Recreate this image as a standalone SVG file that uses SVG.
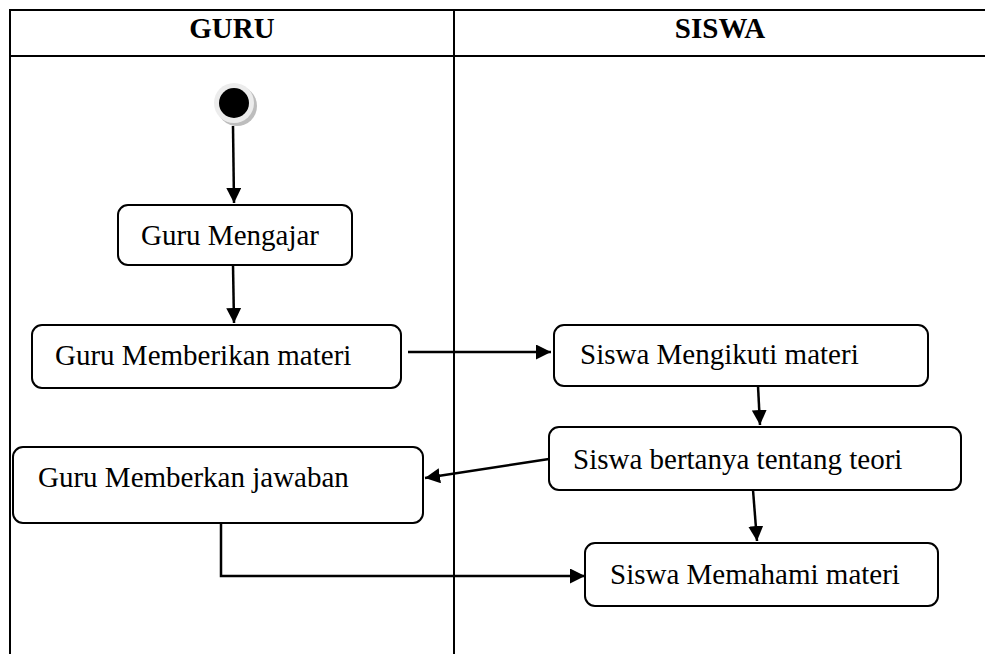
<svg xmlns="http://www.w3.org/2000/svg" width="985" height="654" viewBox="0 0 985 654">
  <style>
    .lane { fill: none; stroke: #000; stroke-width: 2; }
    .node { fill: #fff; stroke: #000; stroke-width: 2; }
    .lbl { font-family: "Liberation Serif", "Times New Roman", serif; font-size: 29px; fill: #000; }
    .hdr { font-family: "Liberation Serif", "Times New Roman", serif; font-size: 29px; font-weight: bold; fill: #000; text-anchor: middle; }
    .edge { fill: none; stroke: #000; stroke-width: 2.5; }
  </style>
  <defs>
    <marker id="arrow" viewBox="0 0 10 10" refX="10" refY="5" markerWidth="6" markerHeight="6" markerUnits="strokeWidth" orient="auto">
      <path d="M0,0 L10,5 L0,10 z" fill="#000"/>
    </marker>
  </defs>

  <!-- swimlane table -->
  <g id="lanes">
    <rect x="0" y="0" width="985" height="654" fill="#fff"/>
    <path class="lane" d="M10,660 V10 H990 M10,56 H990 M454,10 V660"/>
    <text class="hdr" x="232" y="38">GURU</text>
    <text class="hdr" x="720" y="38">SISWA</text>
  </g>

  <!-- initial node -->
  <g id="start">
    <circle cx="237" cy="106" r="20" fill="#bdbdbd"/>
    <circle cx="234" cy="103" r="20" fill="#ececec"/>
    <circle cx="234" cy="103" r="15" fill="#000"/>
  </g>

  <g id="n-mengajar">
    <rect class="node" x="118" y="205" width="234" height="60" rx="10"/>
    <text class="lbl" x="141" y="245">Guru Mengajar</text>
  </g>

  <g id="n-materi">
    <rect class="node" x="32" y="325" width="369" height="63" rx="10"/>
    <text class="lbl" x="55" y="365">Guru Memberikan materi</text>
  </g>

  <g id="n-jawaban">
    <rect class="node" x="13" y="447" width="410" height="76" rx="10"/>
    <text class="lbl" x="38" y="487">Guru Memberkan jawaban</text>
  </g>

  <g id="n-mengikuti">
    <rect class="node" x="554" y="325" width="374" height="61" rx="10"/>
    <text class="lbl" x="580" y="364">Siswa Mengikuti materi</text>
  </g>

  <g id="n-bertanya">
    <rect class="node" x="549" y="427" width="412" height="63" rx="10"/>
    <text class="lbl" x="573" y="469">Siswa bertanya tentang teori</text>
  </g>

  <g id="n-memahami">
    <rect class="node" x="585" y="543" width="353" height="63" rx="10"/>
    <text class="lbl" x="610" y="584">Siswa Memahami materi</text>
  </g>

  <!-- control flows -->
  <g id="connectors">
    <path class="edge" d="M233,126 L234,203" marker-end="url(#arrow)"/>
    <path class="edge" d="M233,265 L234,323" marker-end="url(#arrow)"/>
    <path class="edge" d="M408,352 H551" marker-end="url(#arrow)"/>
    <path class="edge" d="M758,386 L760,425" marker-end="url(#arrow)"/>
    <path class="edge" d="M549,459 L425,478" marker-end="url(#arrow)"/>
    <path class="edge" d="M753,490 L757,541" marker-end="url(#arrow)"/>
    <path class="edge" d="M221,523 V576 H585" marker-end="url(#arrow)"/>
  </g>
</svg>
